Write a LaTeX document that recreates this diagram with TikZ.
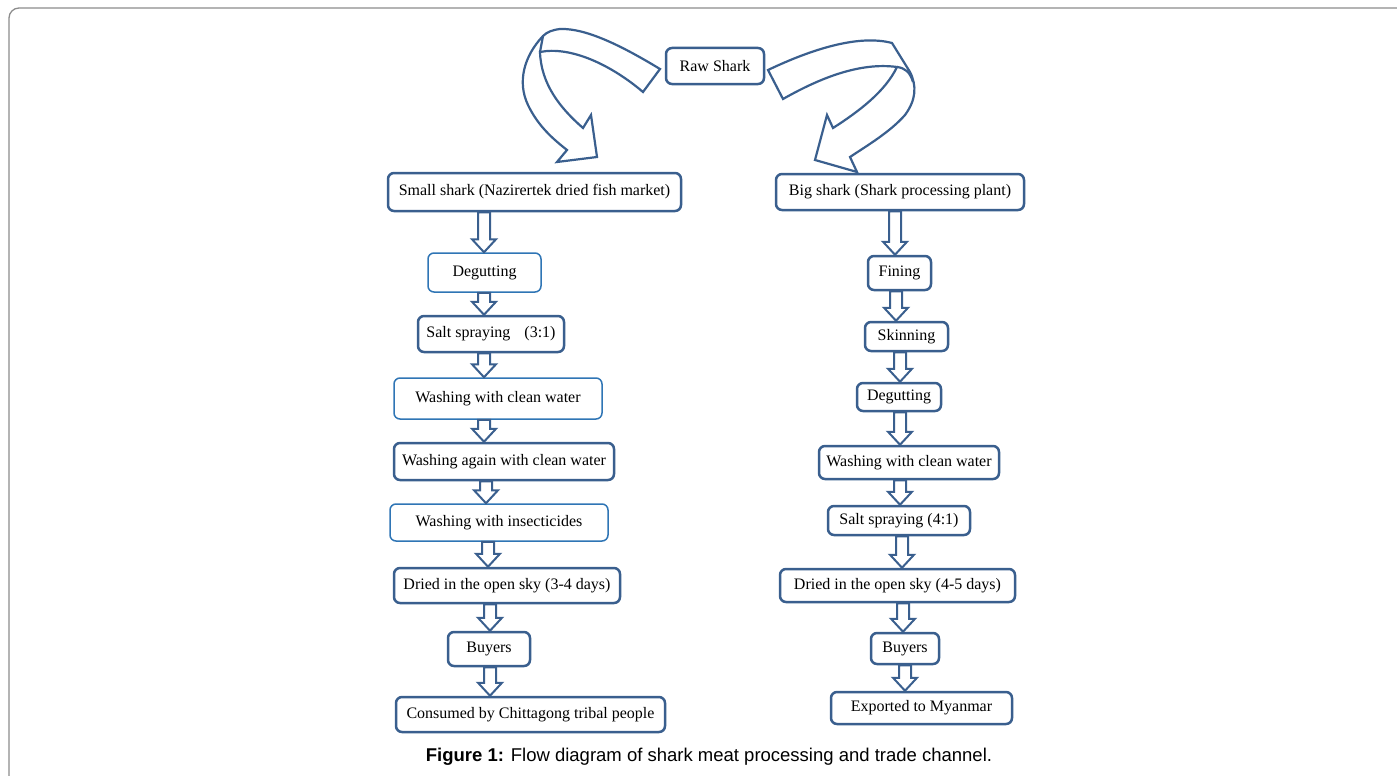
\documentclass[tikz,border=0pt]{standalone}
\usepackage{fontspec}
\setmainfont{Liberation Serif}
\newfontfamily\capfont{Liberation Sans}
\usetikzlibrary{calc}

\definecolor{boxblue}{HTML}{3A5F8E}
\definecolor{lineblue}{HTML}{2F75B5}
\definecolor{framegray}{HTML}{8C8C8C}

% hollow block arrow from node #1 down to node #2, at column x=#3
\newcommand{\hollowarrow}[3]{%
  \draw[boxblue, line width=2pt, fill=white, line join=miter]
    let \p0=(#3,0), \p1=(#1.south), \p2=(#2.north) in
    ({\x0-6pt},\y1) -- ({\x0-6pt},{\y2+13pt}) -- ({\x0-12pt},{\y2+13pt}) -- (\x0,\y2)
    -- ({\x0+12pt},{\y2+13pt}) -- ({\x0+6pt},{\y2+13pt}) -- ({\x0+6pt},\y1) -- cycle;}

\begin{document}
\begin{tikzpicture}[x=1pt, y=-1pt,
    box/.style={draw=boxblue, line width=2.5pt, rounded corners=6pt, fill=white,
      inner sep=0pt, font=\fontsize{16}{19}\selectfont},
    lightbox/.style={box, draw=lineblue, line width=1.5pt},
    wh/.style 2 args={minimum width=#1pt, minimum height=#2pt},
    bent/.style={draw=boxblue, line width=2.2pt, fill=white, line join=miter}]
  \useasboundingbox (0,0) rectangle (1397,776);
  % outer frame
  \draw[framegray, line width=1.3pt, rounded corners=10pt] (1430,8) -- (9,8) -- (9,800);

  % top
  \node[box, wh={98}{36}] (raw) at (715,66) {Raw Shark};

  % left branch: small shark
  \node[box, wh={293}{38}] (small) at (534.5,192) {Small shark (Nazirertek dried fish market)};
  \node[lightbox, wh={113}{39}] (degutL) at (484.5,272.5) {Degutting};
  \node[box, wh={146}{36}] (saltL) at (491,334) {Salt spraying\hspace{14pt}(3:1)};
  \node[lightbox, wh={208}{41}] (washL) at (498,398.5) {Washing with clean water};
  \node[box, wh={220}{37}] (againL) at (504,461.5) {Washing again with clean water};
  \node[lightbox, wh={218}{37}] (insectL) at (499,522.5) {Washing with insecticides};
  \node[box, wh={226}{35}] (driedL) at (507,585.5) {Dried in the open sky (3-4 days)};
  \node[box, wh={82}{34}] (buyL) at (489,649) {Buyers};
  \node[box, wh={269}{35}] (consumed) at (530.5,714.5) {Consumed by Chittagong tribal people};

  % right branch: big shark
  \node[box, wh={248}{36}] (big) at (900,192) {Big shark (Shark processing plant)};
  \node[box, wh={63}{34}] (fining) at (899.5,273) {Fining};
  \node[box, wh={83}{29}] (skin) at (906.5,336.5) {Skinning};
  \node[box, wh={84}{28}] (degutR) at (899,397) {Degutting};
  \node[box, wh={180}{33}] (washR) at (909,462.5) {Washing with clean water};
  \node[box, wh={142}{29}] (saltR) at (899,520.5) {Salt spraying (4:1)};
  \node[box, wh={235}{33}] (driedR) at (897.5,585.5) {Dried in the open sky (4-5 days)};
  \node[box, wh={68}{31}] (buyR) at (905,648.5) {Buyers};
  \node[box, wh={181}{32}] (export) at (921.5,708) {Exported to Myanmar};

  % straight hollow arrows
  \foreach \from/\to/\col in {small/degutL/484, degutL/saltL/484, saltL/washL/484,
      washL/againL/484, againL/insectL/486, insectL/driedL/488, driedL/buyL/490,
      buyL/consumed/490, big/fining/895, fining/skin/896, skin/degutR/900,
      degutR/washR/900, washR/saltR/900, saltR/driedR/902, driedR/buyR/903,
      buyR/export/905}
    \hollowarrow{\from}{\to}{\col};

  % curved arrow to the left
  \draw[bent] (660,69) .. controls (622,46) and (586,28) .. (560,29)
    .. controls (552,30) and (547,32) .. (543,36)
    .. controls (524,56) and (517,82) .. (528,105)
    .. controls (538,126) and (553,139) .. (567,150)
    -- (557,162) -- (597,157) -- (591,115) -- (583,128)
    .. controls (560,108) and (541,84) .. (540,52)
    .. controls (570,46) and (610,64) .. (643,92) -- cycle;
  \draw[bent] (540,52) -- (543,36);
  % curved arrow to the right
  \draw[bent] (768,70) .. controls (810,50) and (858,34) .. (892,43)
    -- (910,72)
    .. controls (917,86) and (916,100) .. (905,115)
    .. controls (890,132) and (868,145) .. (850,157)
    -- (857,172) -- (815,160) -- (827,115) -- (833,128)
    .. controls (858,112) and (885,92) .. (897,67)
    .. controls (860,62) and (820,78) .. (783,99) -- cycle;
  \draw[bent] (897,67) .. controls (905,68) and (910,72) .. (913,82);

  % caption
  \node[font=\capfont\fontsize{18.5}{22}\selectfont] (caption) at (709,757)
    {\textbf{Figure 1:} Flow diagram of shark meat processing and trade channel.};
\end{tikzpicture}
\end{document}
